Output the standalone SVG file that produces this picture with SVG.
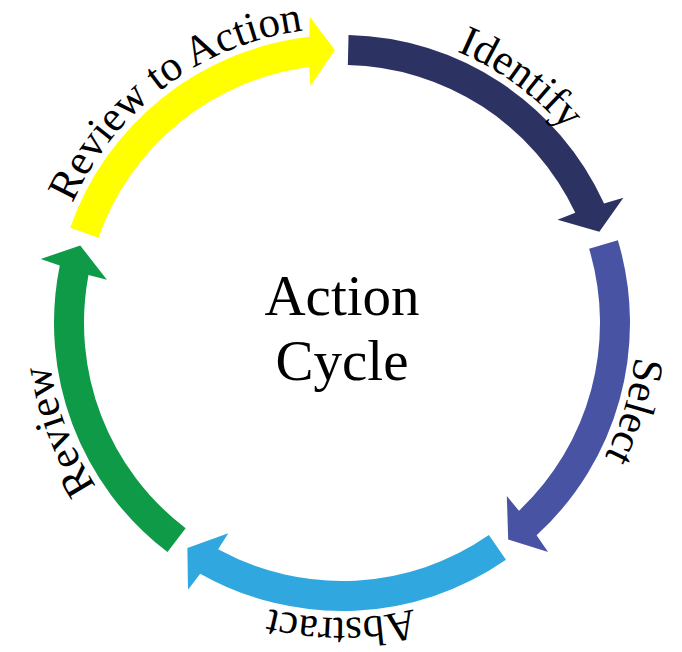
<svg xmlns="http://www.w3.org/2000/svg" xmlns:xlink="http://www.w3.org/1999/xlink" width="682" height="652" viewBox="0 0 682 652">
  <style>
    .label { font-family: "Liberation Serif", "Times New Roman", serif; font-size: 43px; fill: #000; }
    .center { font-family: "Liberation Serif", "Times New Roman", serif; font-size: 57px; fill: #000; text-anchor: middle; }
  </style>
  <defs>
    <path id="arrow" d="M 348.53 35.07 A 288 288 0 0 1 604.07 203.57 L 623.37 197.72 L 599.34 231.87 L 557.54 219.73 L 575.25 212.74 A 258 258 0 0 0 347.85 65.07 Z"/>
    <path id="ring" d="M 342 28 A 295 295 0 0 1 342 618 A 295 295 0 0 1 342 28" fill="none"/>
  </defs>
  <rect width="682" height="652" fill="#fff"/>
  <g id="connectors">
    <g id="arrow-identify"><use xlink:href="#arrow" href="#arrow" fill="#2C3262"/></g>
    <g id="arrow-select"><use xlink:href="#arrow" href="#arrow" fill="#4953A3" transform="rotate(72 342 323)"/></g>
    <g id="arrow-abstract"><use xlink:href="#arrow" href="#arrow" fill="#31A7DF" transform="rotate(144 342 323)"/></g>
    <g id="arrow-review"><use xlink:href="#arrow" href="#arrow" fill="#0F9A48" transform="rotate(216 342 323)"/></g>
    <g id="arrow-review-to-action"><use xlink:href="#arrow" href="#arrow" fill="#FFFF00" transform="rotate(288 342 323)"/></g>
  </g>
  <g id="node-identify">
    <text class="label"><textPath xlink:href="#ring" href="#ring" startOffset="185.9" text-anchor="middle">Identify</textPath></text>
  </g>
  <g id="node-select">
    <text class="label"><textPath xlink:href="#ring" href="#ring" startOffset="549.4" text-anchor="middle">Select</textPath></text>
  </g>
  <g id="node-abstract">
    <text class="label"><textPath xlink:href="#ring" href="#ring" startOffset="926.8" text-anchor="middle">Abstract</textPath></text>
  </g>
  <g id="node-review">
    <text class="label"><textPath xlink:href="#ring" href="#ring" startOffset="1282.0" text-anchor="middle">Review</textPath></text>
  </g>
  <g id="node-review-to-action">
    <text class="label"><textPath xlink:href="#ring" href="#ring" startOffset="1663.0" text-anchor="middle">Review to Action</textPath></text>
  </g>
  <g id="node-center">
    <text class="center" x="342" y="315">Action</text>
    <text class="center" x="342" y="380">Cycle</text>
  </g>
</svg>
